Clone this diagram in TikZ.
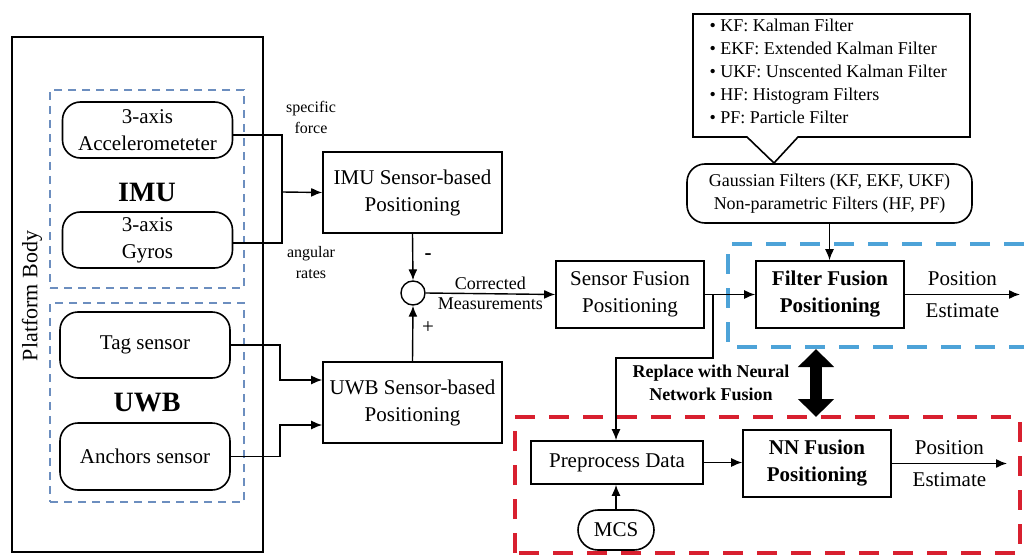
\documentclass[tikz,border=0pt]{standalone}
\usepackage{fontspec}
\setmainfont{Liberation Serif}
\usetikzlibrary{positioning,calc,arrows.meta}
\definecolor{imuedge}{HTML}{6C8EBF}
\definecolor{filtblue}{HTML}{4DA3D8}
\definecolor{nnred}{HTML}{D8202F}
\newcommand{\mainsize}{\fontsize{21}{27}\selectfont}
\newcommand{\midsize}{\fontsize{18}{23}\selectfont}
\newcommand{\lblsize}{\fontsize{16}{21}\selectfont}
\tikzset{
  box/.style    ={draw, line width=1.6pt, align=center, font=\mainsize, inner sep=0pt},
  sensor/.style ={box, rounded corners=18pt, minimum width=170pt, minimum height=56pt},
  posbox/.style ={box, minimum width=179pt, minimum height=81pt},
  fusebox/.style={box, minimum width=148pt, minimum height=67pt},
  % sensor groups inside the platform
  grp/.style    ={draw=imuedge, dash pattern=on 8pt off 6pt, line width=1.5pt,
                  minimum width=194pt, minimum height=198pt},
  filtgrp/.style={draw=filtblue, dash pattern=on 20pt off 14pt, line width=4pt},
  nngrp/.style  ={draw=nnred, dash pattern=on 20pt off 14pt, line width=4pt},
  grptag/.style ={font=\bfseries\fontsize{28}{30}\selectfont},
  flow/.style   ={-{Latex[length=11pt,width=9pt]}, line width=1.4pt},
  wire/.style   ={line width=1.4pt},
  swap/.style   ={{Triangle[length=18pt,width=35pt]}-{Triangle[length=18pt,width=35pt]}, line width=12pt},
  sig/.style    ={font=\lblsize, align=center},
  est/.style    ={font=\mainsize, inner sep=8pt},
}
\begin{document}
\begin{tikzpicture}[x=1pt,y=-1pt]
    \useasboundingbox (0,0) rectangle (1024,556);
    % platform and its sensors
    \node[draw, line width=1.6pt, minimum width=251pt, minimum height=515pt] (platform) at (137.5,294.5) {};
    \node[font=\fontsize{22}{24}\selectfont, rotate=90] (platlbl) at (32,296) {Platform Body};
    \node[grp] (imugrp) at (147,189) {};
    \node[grp, minimum height=199pt] (uwbgrp) at (147,402.5) {};
    \node[sensor] (acc)  at (147.5,130) {3-axis\\Accelerometeter};
    \node[sensor] (gyro) at (147.5,240) {3-axis\\Gyros};
    \node[grptag] (imulbl) at (147,192) {IMU};
    \node[sensor, minimum height=66pt] (tag) at (145,345)   {Tag sensor};
    \node[sensor, minimum height=67pt] (anc) at (145,456.5) {Anchors sensor};
    \node[grptag] (uwblbl) at (147,403) {UWB};

    \node[posbox] (imupos) at (412.5,192.5) {IMU Sensor-based\\Positioning};
    \node[posbox] (uwbpos) at (412.5,402.5) {UWB Sensor-based\\Positioning};
    \node[draw, circle, line width=1.4pt, minimum size=24pt, inner sep=0pt] (sum) at (413,293) {};
    \node[fusebox] (sfp) at (630,294.5) {Sensor Fusion\\Positioning};
    \node[fusebox, font=\bfseries\mainsize] (ffp) at (830,294.5) {Filter Fusion\\Positioning};
    \node[box, rounded corners=18pt, minimum width=285pt, minimum height=59pt, font=\midsize] (gauss) at (829.5,193.5)
        {Gaussian Filters (KF, EKF, UKF)\\Non-parametric Filters (HF, PF)};
    \node[font=\midsize, align=left, anchor=west] (kinds) at (706,71.5)
        {• KF: Kalman Filter\\• EKF: Extended Kalman Filter\\• UKF: Unscented Kalman Filter\\• HF: Histogram Filters\\• PF: Particle Filter};
    \draw[line width=1.6pt, line join=miter] (693,14) -- (970,14) -- (970,137) -- (798,137) -- (774,163) -- (747,137) -- (693,137) -- cycle;

    \node[box, minimum width=172pt, minimum height=43pt] (ppd) at (617,462.5) {Preprocess Data};
    \node[box, rounded corners=20pt, minimum width=76pt, minimum height=40pt] (mcs) at (616,530) {MCS};
    \node[fusebox, font=\bfseries\mainsize] (nnp) at (817,463.5) {NN Fusion\\Positioning};
    \node[font=\bfseries\midsize, align=center] (replbl) at (711,383) {Replace with Neural\\Network Fusion};

    \draw[filtgrp] (1024,244) -| (728,347) -- (1024,347);
    \draw[nngrp] (515,553) rectangle (1020,417);

    \coordinate (imujoin) at (282,192);
    \coordinate (tj) at (280,380);
    \coordinate (aj) at (280,425);
    \coordinate (br) at (713,294.5);
    \coordinate (bend) at (616,358);
    \coordinate (ffout) at (1020,294.5);
    \coordinate (nnout) at (1007,463.5);
    \coordinate (fb) at (816,349);
    \coordinate (nt) at (816,417);

    \draw[wire] ($(acc.east)+(0,5)$) -| (imujoin);
    \draw[wire] ($(gyro.east)+(0,3)$) -| (imujoin);
    \draw[flow] (imujoin) -- (imupos.west);
    \draw[flow] (tag.east) -| (tj) -- (tj -| uwbpos.west);
    \draw[flow] (anc.east) -| (aj) -- (aj -| uwbpos.west);
    \node[sig] at (311,117) {specific\\force};
    \node[sig] at (311,263) {angular\\rates};

    \draw[flow] (imupos.south) -- (sum.north);
    \draw[flow] (uwbpos.north) -- (sum.south);
    \node[font=\bfseries\mainsize] at (428,257) {-};
    \node[font=\mainsize] at (428,328) {+};
    \draw[flow] (sum.east) -- (sfp.west)
        node[midway, above, font=\midsize] {Corrected}
        node[midway, below, font=\midsize] {Measurements};
    \draw[flow] (sfp.east) -- (ffp.west);
    \draw[flow] (gauss.south) -- (gauss.south |- ffp.north);
    \draw[flow] (ffp.east) -- (ffout)
        node[midway, above, est] {Position}
        node[midway, below, est] {Estimate};
    \draw[flow] (br) |- (bend) -- (ppd.north -| bend);
    \draw[flow] (mcs.north) -- (ppd.south -| mcs.north);
    \draw[flow] (ppd.east) -- (ppd.east -| nnp.west);
    \draw[flow] (nnp.east) -- (nnout)
        node[midway, above, est] {Position}
        node[midway, below, est] {Estimate};
    \draw[swap] (fb) -- (nt);
  \end{tikzpicture}
\end{document}
